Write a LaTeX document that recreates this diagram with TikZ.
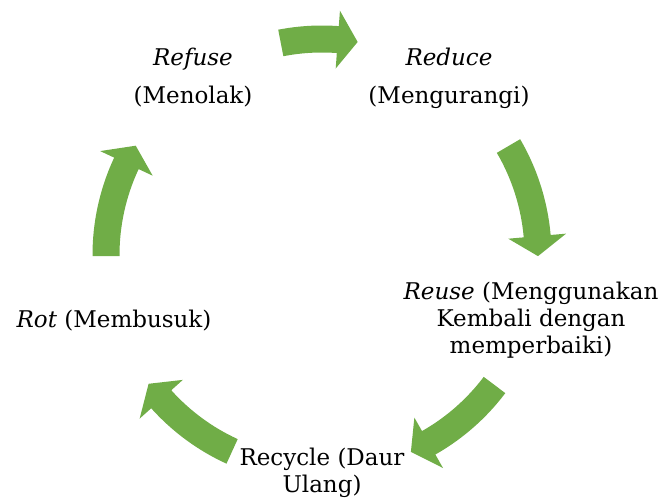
\documentclass[tikz,border=0pt]{standalone}
\usepackage{fontspec}
\setmainfont{DejaVu Serif}
\definecolor{cyclegreen}{HTML}{70AD47}
\tikzset{
  lbl/.style={align=center, inner sep=0pt, font=\fontsize{23}{27}\selectfont, text=black},
  arrowfill/.style={fill=cyclegreen, draw=none}
}
% #1 tail angle, #2 tip angle (clockwise arrows)
\newcommand\cyclearrow[2]{%
  \pgfmathsetmacro\hb{#2+5.3}%
  \fill[arrowfill] (#1:229.5pt) arc[start angle=#1, end angle=\hb, radius=229.5pt]
    -- (\hb:245pt) -- (#2:216pt) -- (\hb:187pt) -- (\hb:202.5pt)
    arc[start angle=\hb, end angle=#1, radius=202.5pt] -- cycle;}
\begin{document}
\begin{tikzpicture}[x=1pt,y=1pt]
\useasboundingbox (0,0) rectangle (660,498);
\begin{scope}[shift={(322,243)}]
  \cyclearrow{101}{80.5}
  \cyclearrow{30.3}{-0.3}
  \cyclearrow{-37}{-65.7}
  \cyclearrow{245.4}{216.6}
  \cyclearrow{180.3}{149.6}
\end{scope}
\node[lbl] (refuse) at (193,420) {\textit{Refuse}\\[11pt](Menolak)};
\node[lbl] (reduce) at (449,420) {\textit{Reduce}\\[11pt](Mengurangi)};
\node[lbl] (reuse) at (531,178) {\textit{Reuse} (Menggunakan\\Kembali dengan\\memperbaiki)};
\node[lbl] (recycle) at (322,25) {Recycle (Daur\\Ulang)};
\node[lbl] (rot) at (114,177) {\textit{Rot} (Membusuk)};
\end{tikzpicture}
\end{document}
